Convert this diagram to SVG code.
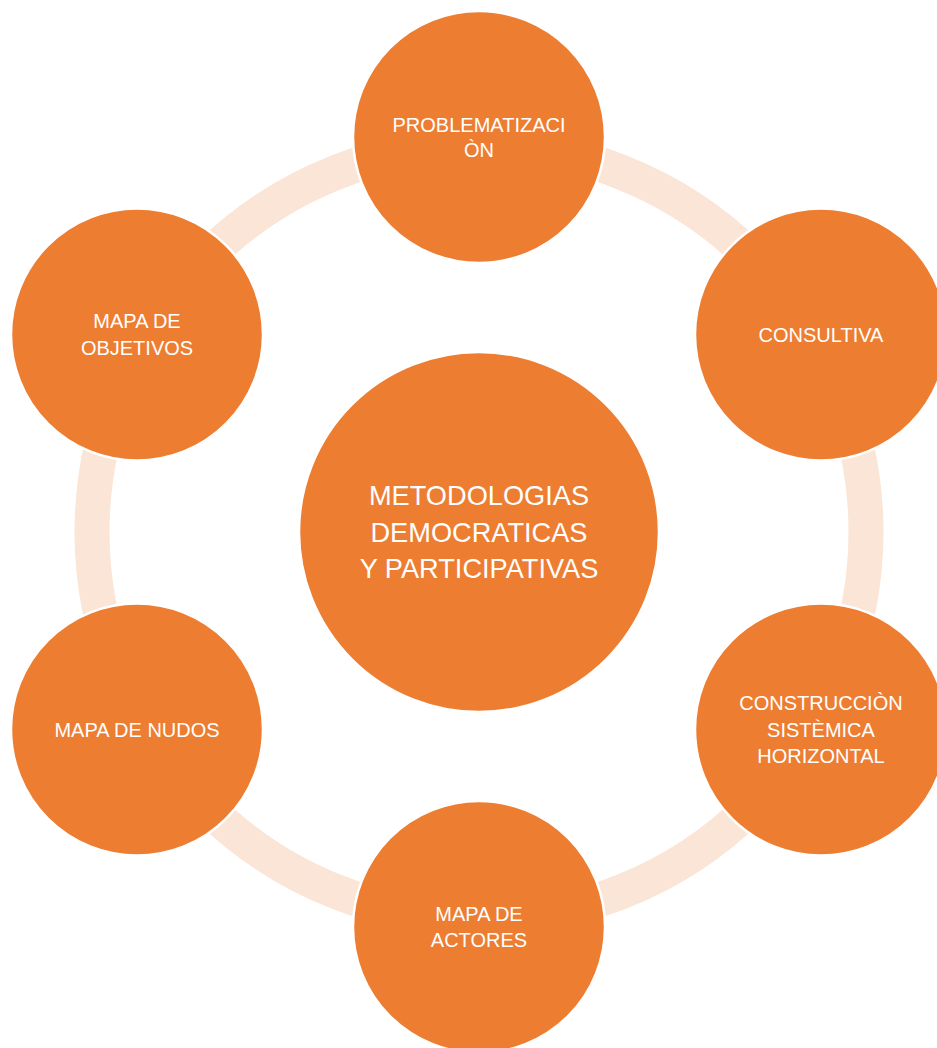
<svg xmlns="http://www.w3.org/2000/svg" width="937" height="1048" viewBox="0 0 937 1048">
<style>
.node{fill:#ED7D31;stroke:#FFFFFF;stroke-width:2.5}
.t{font-family:"Liberation Sans",Arial,sans-serif;font-size:20px;fill:#FFFFFF;text-anchor:middle}
.tc{font-family:"Liberation Sans",Arial,sans-serif;font-size:27.2px;fill:#FFFFFF;text-anchor:middle}
</style>
<rect width="937" height="1048" fill="#FFFFFF"/>
<g id="connectors">
<circle cx="479" cy="532" r="387" fill="none" stroke="#FBE5D6" stroke-width="35"/>
</g>
<g id="center">
<circle class="node" cx="479" cy="532" r="180"/>
<text class="tc" x="479" y="505">METODOLOGIAS</text>
<text class="tc" x="479" y="542">DEMOCRATICAS</text>
<text class="tc" x="479" y="578">Y PARTICIPATIVAS</text>
</g>
<g id="problematizacion">
<circle class="node" cx="479" cy="137" r="126"/>
<text class="t" x="479" y="132">PROBLEMATIZACI</text>
<text class="t" x="479" y="157">ÒN</text>
</g>
<g id="consultiva">
<circle class="node" cx="821" cy="334.5" r="126"/>
<text class="t" x="821" y="342">CONSULTIVA</text>
</g>
<g id="construccion">
<circle class="node" cx="821" cy="729.5" r="126"/>
<text class="t" x="821" y="710">CONSTRUCCIÒN</text>
<text class="t" x="821" y="737">SISTÈMICA</text>
<text class="t" x="821" y="763">HORIZONTAL</text>
</g>
<g id="mapa-actores">
<circle class="node" cx="479" cy="927" r="126"/>
<text class="t" x="479" y="921">MAPA DE</text>
<text class="t" x="479" y="947">ACTORES</text>
</g>
<g id="mapa-nudos">
<circle class="node" cx="137" cy="729.5" r="126"/>
<text class="t" x="137" y="737">MAPA DE NUDOS</text>
</g>
<g id="mapa-objetivos">
<circle class="node" cx="137" cy="334.5" r="126"/>
<text class="t" x="137" y="328">MAPA DE</text>
<text class="t" x="137" y="355">OBJETIVOS</text>
</g>
</svg>
